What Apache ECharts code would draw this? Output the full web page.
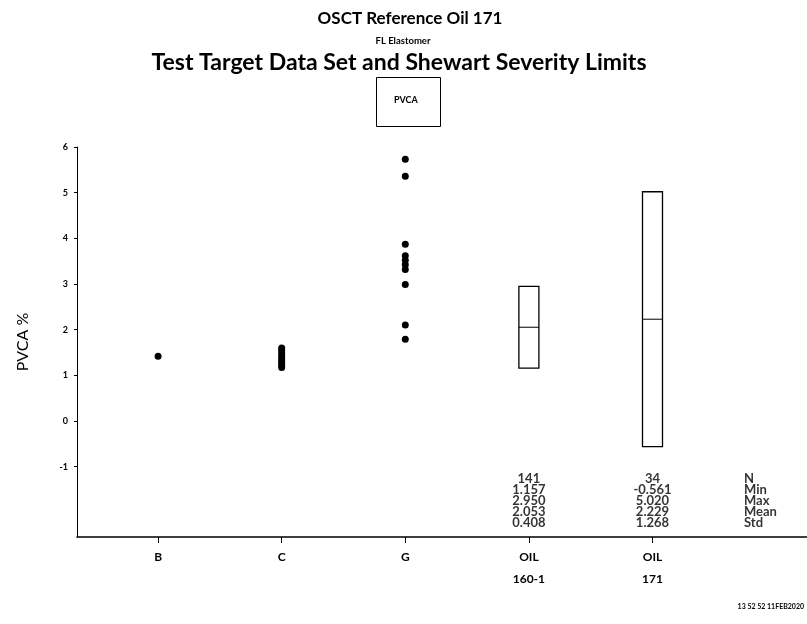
<!DOCTYPE html>
<html>
<head>
<meta charset="utf-8">
<script src="https://cdn.jsdelivr.net/npm/echarts@6/dist/echarts.min.js"></script>
<style>
  html, body { margin: 0; padding: 0; background: #fff; }
  #chart { width: 807px; height: 624px; }
</style>
</head>
<body>
<div id="chart"></div>
<script>
// categories along the x axis (positions 1..5)
const categories = ['B', 'C', 'G', 'OIL\n160-1', 'OIL\n171']
const catPos = [1, 2, 3, 4, 5]
const yTicks = [-1, 0, 1, 2, 3, 4, 5, 6]

// test target points
const pointsB = [1.42]
const pointsC = [1.17, 1.22, 1.27, 1.32, 1.37, 1.43, 1.49, 1.55, 1.60]
const pointsG = [5.73, 5.36, 3.87, 3.62, 3.52, 3.42, 3.32, 2.99, 2.10, 1.79]

// severity limit boxes for OIL 160-1 and OIL 171
const boxPos = [4, 5]
const statN = [141, 34]
const statMin = [1.157, -0.561]
const statMax = [2.950, 5.020]
const statMean = [2.053, 2.229]
const statStd = [0.408, 1.268]
const statNames = ['N', 'Min', 'Max', 'Mean', 'Std']

const font = 'Lato, "Open Sans", sans-serif'

const scatterData = []
pointsB.forEach(v => scatterData.push([catPos[0], v]))
pointsC.forEach(v => scatterData.push([catPos[1], v]))
pointsG.forEach(v => scatterData.push([catPos[2], v]))

const boxData = boxPos.map((x, i) => [x, statMin[i], statMax[i], statMean[i]])
const statData = boxPos.map((x, i) => ({
  value: [x, -1.75],
  text: [statN[i], statMin[i].toFixed(3), statMax[i].toFixed(3), statMean[i].toFixed(3), statStd[i].toFixed(3)].join('\n')
}))

const chart = echarts.init(document.getElementById('chart'))
chart.setOption({
  backgroundColor: '#fff',
  animation: false,
  title: [
    { text: 'OSCT Reference Oil 171', left: 405, top: 5, textAlign: 'center',
      textStyle: { fontFamily: font, fontSize: 17, fontWeight: 'bold', color: '#000' } },
    { text: 'FL Elastomer', left: 398, top: 31, textAlign: 'center',
      textStyle: { fontFamily: font, fontSize: 9.5, fontWeight: 'bold', color: '#000' } },
    { text: 'Test Target Data Set and Shewart Severity Limits', left: 394, top: 46, textAlign: 'center',
      textStyle: { fontFamily: font, fontSize: 23, fontWeight: 'bold', color: '#000' } }
  ],
  graphic: [
    { type: 'rect', left: 376, top: 77, shape: { width: 64, height: 49 },
      style: { fill: '#fff', stroke: '#000', lineWidth: 1 } },
    { type: 'text', left: 394, top: 96,
      style: { text: 'PVCA', font: 'bold 9px ' + font, fill: '#000' } },
    { type: 'text', right: 3, top: 603,
      style: { text: '13 52 52 11FEB2020', font: 'bold 7px ' + font, fill: '#000' } }
  ],
  grid: { left: 77, right: 0, top: 147, bottom: 87 },
  xAxis: {
    type: 'value',
    min: 0.344,
    max: 6.25,
    splitLine: { show: false },
    axisLine: { onZero: false, lineStyle: { color: '#000', width: 1.5 } },
    axisTick: { customValues: catPos, length: 6, lineStyle: { color: '#000' } },
    axisLabel: {
      customValues: catPos,
      formatter: v => categories[Math.round(v) - 1] || '',
      fontFamily: font, fontSize: 12, fontWeight: 'bold', color: '#000',
      lineHeight: 22, margin: 9
    }
  },
  yAxis: {
    type: 'value',
    min: -2.54,
    max: 6,
    name: 'PVCA %',
    nameLocation: 'middle',
    nameGap: 46,
    nameTextStyle: { fontFamily: font, fontSize: 16, color: '#000' },
    splitLine: { show: false },
    axisLine: { show: true, onZero: false, lineStyle: { color: '#000', width: 1 } },
    axisTick: { show: true, customValues: yTicks, length: 3, lineStyle: { color: '#000' } },
    axisLabel: {
      customValues: yTicks,
      fontFamily: font, fontSize: 9, fontWeight: 'bold', color: '#000', margin: 9
    }
  },
  series: [
    {
      type: 'scatter',
      data: scatterData,
      symbol: 'circle',
      symbolSize: 7,
      itemStyle: { color: '#000', opacity: 1 }
    },
    {
      type: 'custom',
      data: boxData,
      renderItem: (params, api) => {
        const lo = api.coord([api.value(0), api.value(1)])
        const hi = api.coord([api.value(0), api.value(2)])
        const mid = api.coord([api.value(0), api.value(3)])
        const w = 20
        return {
          type: 'group',
          children: [
            { type: 'rect', shape: { x: lo[0] - w / 2, y: hi[1], width: w, height: lo[1] - hi[1] },
              style: { fill: 'none', stroke: '#000', lineWidth: 1.3 } },
            { type: 'line', shape: { x1: mid[0] - w / 2, y1: mid[1], x2: mid[0] + w / 2, y2: mid[1] },
              style: { stroke: '#000', lineWidth: 1 } }
          ]
        }
      }
    },
    {
      type: 'scatter',
      data: statData,
      symbolSize: 0,
      label: {
        show: true,
        position: 'inside',
        formatter: p => p.data.text,
        fontFamily: font, fontSize: 13, fontWeight: 'bold', color: '#000',
        lineHeight: 11, align: 'center'
      }
    },
    {
      type: 'scatter',
      data: [[5.74, -1.75]],
      symbolSize: 0,
      label: {
        show: true,
        position: 'inside',
        formatter: statNames.join('\n'),
        fontFamily: font, fontSize: 13, fontWeight: 'bold', color: '#000',
        lineHeight: 11, align: 'left'
      }
    }
  ]
})
</script>
</body>
</html>
